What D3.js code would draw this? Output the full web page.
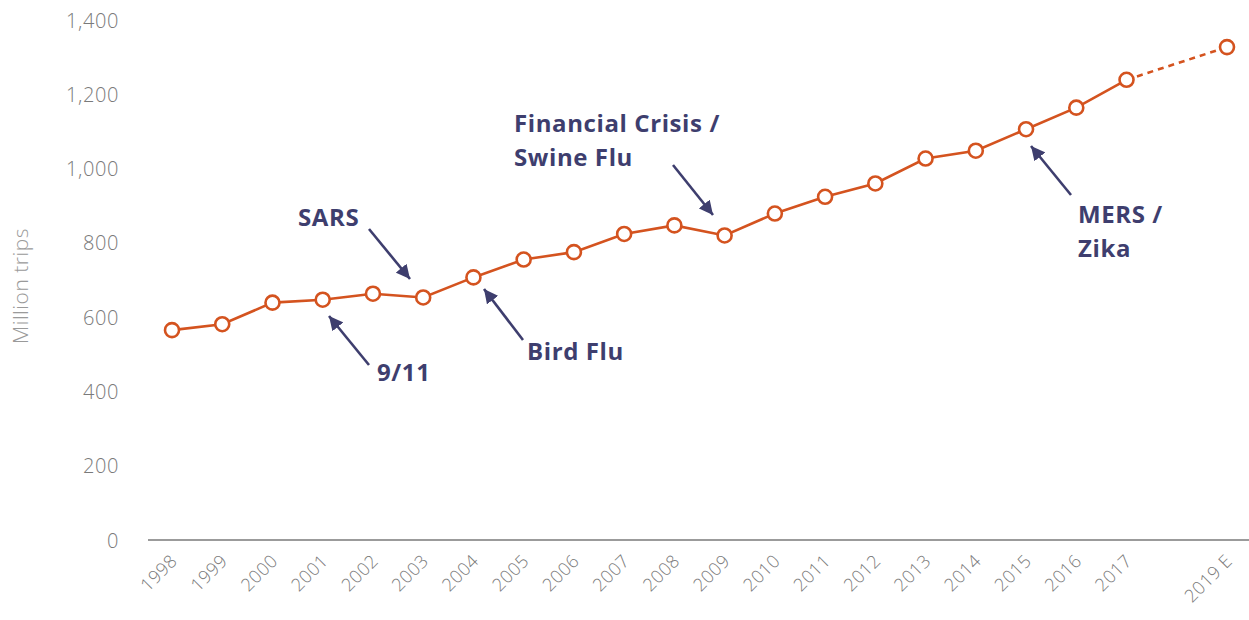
<!DOCTYPE html>
<html><head><meta charset="utf-8">
<script src="https://cdn.jsdelivr.net/npm/d3@7"></script>
<style>body{margin:0;background:#fff}svg{display:block}</style>
</head><body>
<script>
const labels = ["1998","1999","2000","2001","2002","2003","2004","2005","2006","2007","2008","2009","2010","2011","2012","2013","2014","2015","2016","2017","2019 E"];
const years  = [1998,1999,2000,2001,2002,2003,2004,2005,2006,2007,2008,2009,2010,2011,2012,2013,2014,2015,2016,2017,2019];
const values = [565,581,639,647,663,653,707,755,775,824,847,820,879,924,960,1027,1048,1106,1164,1239,1327];
const yTicks = [0,200,400,600,800,1000,1200,1400];
const events = [
  {lines:["SARS"], year:2003, tx:298, ty:218, from:[369,229], to:[410,279]},
  {lines:["9/11"], year:2001, tx:377, ty:373, from:[369,365], to:[329,316]},
  {lines:["Bird Flu"], year:2004, tx:527, ty:352, from:[523,340], to:[484,289]},
  {lines:["Financial Crisis /","Swine Flu"], year:2009, tx:514, ty:124, from:[673,165], to:[713,215]},
  {lines:["MERS /","Zika"], year:2015, tx:1078, ty:215, from:[1071,195], to:[1031,146]}
];

const W=1249,H=620;
const lineColor="#d4531f", annColor="#3e3e6e", axisGrey="#7a7a7a";
const svg=d3.select("body").append("svg").attr("width",W).attr("height",H);

const x=d3.scaleLinear().domain([1998,2019]).range([172,1227]);
const y=d3.scaleLinear().domain([0,1400]).range([540,20]);

// y tick labels
const yAxis=d3.axisLeft(y).tickValues(yTicks).tickSize(0).tickPadding(0).tickFormat(d3.format(","));
const gy=svg.append("g").attr("transform","translate(119,0)").call(yAxis);
gy.select(".domain").remove();
gy.selectAll("text").attr("font-family","'Open Sans',sans-serif").attr("font-weight",300)
  .attr("font-size",20).attr("letter-spacing",0.6).attr("fill",axisGrey).attr("dy","0.35em");

// x axis
const xAxis=d3.axisBottom(x).tickValues(years).tickSize(0).tickFormat((d,i)=>labels[i]);
const gx=svg.append("g").attr("transform","translate(0,540)").call(xAxis);
gx.select(".domain").remove();
svg.append("line").attr("x1",148).attr("x2",W).attr("y1",540).attr("y2",540)
  .attr("stroke",axisGrey).attr("stroke-width",1.5);
gx.selectAll("text").attr("font-family","'Open Sans',sans-serif").attr("font-weight",300)
  .attr("font-size",18).attr("letter-spacing",0.5).attr("fill",axisGrey)
  .attr("text-anchor","end").attr("dy",0).attr("y",0)
  .attr("transform","translate(6,22) rotate(-45)");

// y title
svg.append("text").attr("transform","translate(28,286) rotate(-90)")
  .attr("text-anchor","middle").attr("font-family","'Open Sans',sans-serif").attr("font-weight",300)
  .attr("font-size",21).attr("letter-spacing",0.5).attr("fill","#9a9a9a").text("Million trips");

// lines
const pts=years.map((yr,i)=>({yr,v:values[i]}));
const line=d3.line().x(d=>x(d.yr)).y(d=>y(d.v));
svg.append("path").datum(pts.slice(0,pts.length-1)).attr("d",line)
  .attr("fill","none").attr("stroke",lineColor).attr("stroke-width",2.6);
svg.append("path").datum(pts.slice(pts.length-2)).attr("d",line)
  .attr("fill","none").attr("stroke",lineColor).attr("stroke-width",2.6).attr("stroke-dasharray","6,5");
svg.selectAll("circle.pt").data(pts).join("circle").attr("class","pt")
  .attr("cx",d=>x(d.yr)).attr("cy",d=>y(d.v)).attr("r",7)
  .attr("fill","#fff").attr("stroke",lineColor).attr("stroke-width",2.6);

// annotations
svg.append("defs").append("marker").attr("id","ah").attr("viewBox","0 0 10 10")
  .attr("refX",10).attr("refY",5).attr("markerWidth",14).attr("markerHeight",14)
  .attr("markerUnits","userSpaceOnUse").attr("orient","auto")
  .append("path").attr("d","M0,0 L10,5 L0,10 Z").attr("fill",annColor);
const ag=svg.append("g");
events.forEach(e=>{
  ag.append("line").attr("x1",e.from[0]).attr("y1",e.from[1]).attr("x2",e.to[0]).attr("y2",e.to[1])
    .attr("stroke",annColor).attr("stroke-width",2.6).attr("marker-end","url(#ah)");
  const t=ag.append("text").attr("font-family","'Open Sans',sans-serif").attr("font-weight",700)
    .attr("font-size",24).attr("letter-spacing",0.6).attr("fill",annColor);
  e.lines.forEach((l,i)=>t.append("tspan").attr("x",e.tx).attr("y",e.ty+i*34).attr("dy","0.35em").text(l));
});
</script>
</body></html>
